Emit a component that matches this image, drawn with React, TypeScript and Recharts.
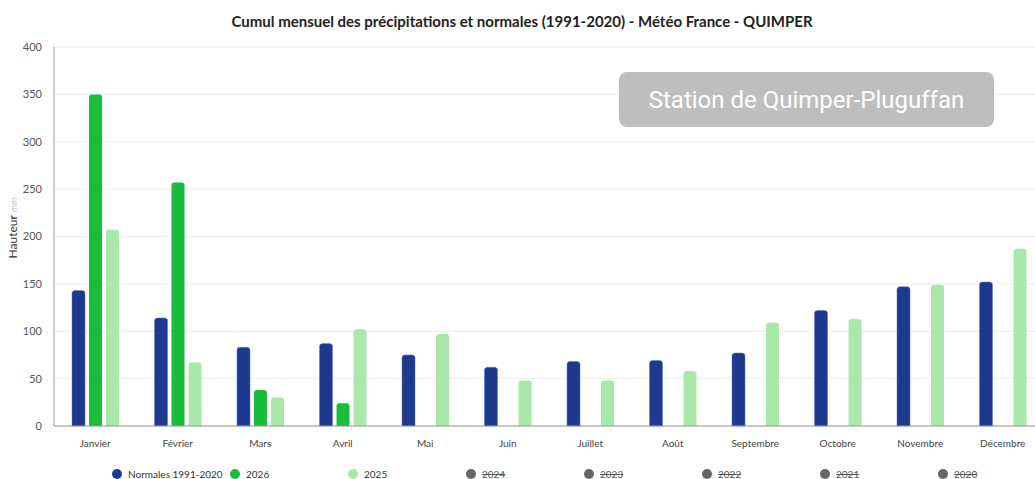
import React from "react";
import { BarChart, Bar, XAxis, YAxis, CartesianGrid } from "recharts";

const months = ["Janvier", "Février", "Mars", "Avril", "Mai", "Juin", "Juillet", "Août", "Septembre", "Octobre", "Novembre", "Décembre"];
const normales = [143, 114, 83, 87, 75, 62, 68, 69, 77, 122, 147, 152];
const y2026: (number | null)[] = [350, 257, 38, 24, null, null, null, null, null, null, null, null];
const y2025 = [207, 67, 30, 102, 97, 48, 48, 58, 109, 113, 149, 187];
const yTicks = [0, 50, 100, 150, 200, 250, 300, 350, 400];
const hiddenYears = ["2024", "2023", "2022", "2021", "2020"];

const data = months.map((m, i) => ({
  month: m,
  normales: normales[i],
  y2026: y2026[i],
  y2025: y2025[i],
}));

const NAVY = "#1e3a8f";
const GREEN = "#19bd3b";
const LIGHT = "#a9e8a9";
const FONT = "Lato, 'Open Sans', sans-serif";

function YLabel() {
  const x = 17;
  const y = 228;
  return (
    <text x={x} y={y} transform={`rotate(-90 ${x} ${y})`} textAnchor="middle" fontFamily={FONT} fontSize={12} fill="#333">
      Hauteur <tspan fontSize={9} fill="#c4c4c4">mm</tspan>
    </text>
  );
}

const legendItems = [
  { label: "Normales 1991-2020", color: NAVY, off: false },
  { label: "2026", color: GREEN, off: false },
  { label: "2025", color: LIGHT, off: false },
  ...hiddenYears.map((y) => ({ label: y, color: "#666", off: true })),
];

export default function App() {
  return (
    <div style={{ position: "fixed", top: 0, left: 0, width: 1035, height: 479, overflow: "hidden", background: "#fff" }}>
      <BarChart
        width={1044}
        height={479}
        data={data}
        margin={{ top: 47, right: 0, bottom: 23, left: 14 }}
        barSize={13}
        barGap={4}
      >
        <CartesianGrid vertical={false} stroke="#ececec" />
        <XAxis
          dataKey="month"
          tickLine={false}
          tickSize={0}
          tickMargin={14}
          stroke="#999"
          tick={{ fontFamily: FONT, fontSize: 10, fill: "#444" }}
          interval={0}
        />
        <YAxis
          width={40}
          domain={[0, 400]}
          ticks={yTicks}
          tickLine={false}
          tickSize={0}
          tickMargin={12}
          stroke="#999"
          tick={{ fontFamily: FONT, fontSize: 11, fill: "#555" }}
          label={<YLabel />}
        />
        <Bar dataKey="normales" fill={NAVY} stroke="#5b74c4" strokeDasharray="1 1" strokeWidth={1} radius={[3, 3, 0, 0]} isAnimationActive={false} />
        <Bar dataKey="y2026" fill={GREEN} radius={[3, 3, 0, 0]} isAnimationActive={false} />
        <Bar dataKey="y2025" fill={LIGHT} radius={[3, 3, 0, 0]} isAnimationActive={false} />
      </BarChart>
      <div style={{ position: "absolute", top: 11, left: 0, width: 1044, textAlign: "center", fontFamily: FONT, fontWeight: 700, fontSize: 15, lineHeight: "20px", color: "#222" }}>
        Cumul mensuel des précipitations et normales (1991-2020) - Météo France - QUIMPER
      </div>
      <div style={{ position: "absolute", left: 619, top: 72, width: 375, height: 55, borderRadius: 8, background: "#bebebe", color: "#fff", fontFamily: "Roboto, sans-serif", fontSize: 24, display: "flex", alignItems: "center", justifyContent: "center" }}>
        Station de Quimper-Pluguffan
      </div>
      <div style={{ position: "absolute", top: 468, left: 112, height: 12, display: "flex", fontFamily: FONT, fontSize: 10, lineHeight: "12px", color: "#333", zIndex: 5 }}>
        {legendItems.map((it) => (
          <div key={it.label} style={{ width: 118, height: 12, display: "flex", alignItems: "center" }}>
            <span style={{ display: "inline-block", width: 10, height: 10, borderRadius: 5, background: it.color, marginRight: 6 }} />
            <span style={{ textDecoration: it.off ? "line-through" : "none", color: it.off ? "#555" : "#333" }}>{it.label}</span>
          </div>
        ))}
      </div>
    </div>
  );
}
